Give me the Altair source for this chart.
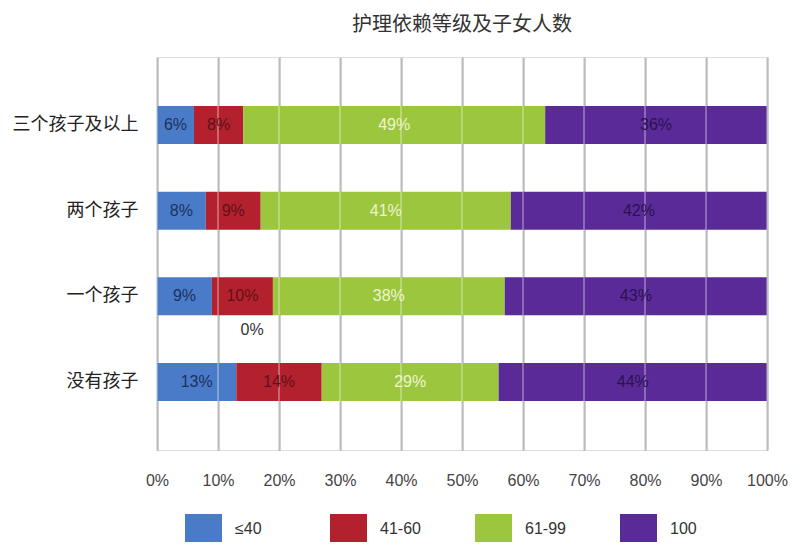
import altair as alt
import pandas as pd

# ---- data ----
categories = ["三个孩子及以上", "两个孩子", "一个孩子", "没有孩子"]
levels = ["≤40", "41-60", "61-99", "100"]
v_le40 = [6, 8, 9, 13]
v_41_60 = [8, 9, 10, 14]
v_61_99 = [49, 41, 38, 29]
v_100 = [36, 42, 43, 44]
bar_colors = ["#4a7bc8", "#b3212e", "#9cc63e", "#5a2b98"]
label_colors = ["#1d315e", "#5e1218", "#eef4cf", "#2b1150"]
tick_values = [0, 0.1, 0.2, 0.3, 0.4, 0.5, 0.6, 0.7, 0.8, 0.9, 1.0]
extra_cat = ["一个孩子"]
extra_pos = [0.156]
extra_text = ["0%"]

series = [v_le40, v_41_60, v_61_99, v_100]
rows = []
for k, (lvl, vals) in enumerate(zip(levels, series)):
    for cat, v in zip(categories, vals):
        rows.append({"cat": cat, "level": lvl, "k": k, "value": v,
                     "label": f"{v}%", "tcolor": label_colors[k]})
df = pd.DataFrame(rows)
tick_df = pd.DataFrame({"t": tick_values})
extra_df = pd.DataFrame({"cat": extra_cat, "pos": extra_pos, "text": extra_text})

CJK = "Noto Sans CJK SC"

x_scale = alt.Scale(domain=[0, 1], nice=False, zero=True)
y_scale = alt.Scale(paddingInner=0.557, paddingOuter=0.571)
x_axis = alt.Axis(values=tick_values, format=".0%", grid=True, gridColor="#a0a0a0",
                  gridWidth=2, domain=False, ticks=False, labelPadding=22,
                  labelFontSize=16, labelColor="#444", labelFont="Liberation Sans",
                  labelFlush=False, labelOverlap=False, title=None)
y_axis = alt.Axis(domain=False, ticks=False, grid=False, labelPadding=19,
                  labelFontSize=18, labelColor="#222", labelFont=CJK, title=None)

base = (
    alt.Chart(df)
    .transform_joinaggregate(total="sum(value)", groupby=["cat"])
    .transform_window(cum="sum(value)", sort=[alt.SortField("k")],
                      groupby=["cat"], frame=[None, 0])
    .transform_calculate(
        start="(datum.cum - datum.value) / datum.total",
        end="datum.cum / datum.total",
        mid="(datum.cum - datum.value / 2) / datum.total",
    )
)

bars = base.mark_bar().encode(
    y=alt.Y("cat:N", sort=categories, scale=y_scale, axis=y_axis),
    x=alt.X("start:Q", scale=x_scale, axis=x_axis),
    x2="end:Q",
    color=alt.Color(
        "level:N",
        scale=alt.Scale(domain=levels, range=bar_colors),
        legend=alt.Legend(
            orient="none", legendX=28, legendY=453, direction="horizontal",
            columns=4, gridAlign="all", columnPadding=54, title=None,
            symbolType="M-1,-0.8H1V0.8H-1Z", symbolSize=1369,
            symbolStrokeWidth=0, symbolOpacity=1, labelFontSize=16,
            labelOffset=13, labelColor="#333", labelFont="Liberation Sans",
            padding=0,
        ),
    ),
)

grid_overlay = alt.Chart(tick_df).mark_rule(
    color="white", opacity=0.3, strokeWidth=2
).encode(x=alt.X("t:Q", scale=x_scale, axis=x_axis))

texts = base.mark_text(fontSize=16, font="Liberation Sans").encode(
    y=alt.Y("cat:N", sort=categories, scale=y_scale, axis=y_axis),
    x=alt.X("mid:Q", scale=x_scale, axis=x_axis),
    text="label:N",
    color=alt.Color("tcolor:N", scale=None),
)

extra = alt.Chart(extra_df).mark_text(
    fontSize=16, dy=34, color="#333", font="Liberation Sans"
).encode(
    y=alt.Y("cat:N", sort=categories, scale=y_scale, axis=y_axis),
    x=alt.X("pos:Q", scale=x_scale, axis=x_axis),
    text="text:N",
)

chart = (
    alt.layer(bars, grid_overlay, texts, extra)
    .properties(
        width=610,
        height=393,
        autosize="none",
        padding={"left": 149, "top": 49, "right": 25, "bottom": 92},
        title=alt.TitleParams(
            "护理依赖等级及子女人数", fontSize=20, fontWeight="normal",
            color="#333", font=CJK, anchor="middle", offset=21,
        ),
    )
    .configure_view(stroke=None)
    .configure(background="white")
)

chart.save("out.html", embed_options={"renderer": "svg", "actions": False})
